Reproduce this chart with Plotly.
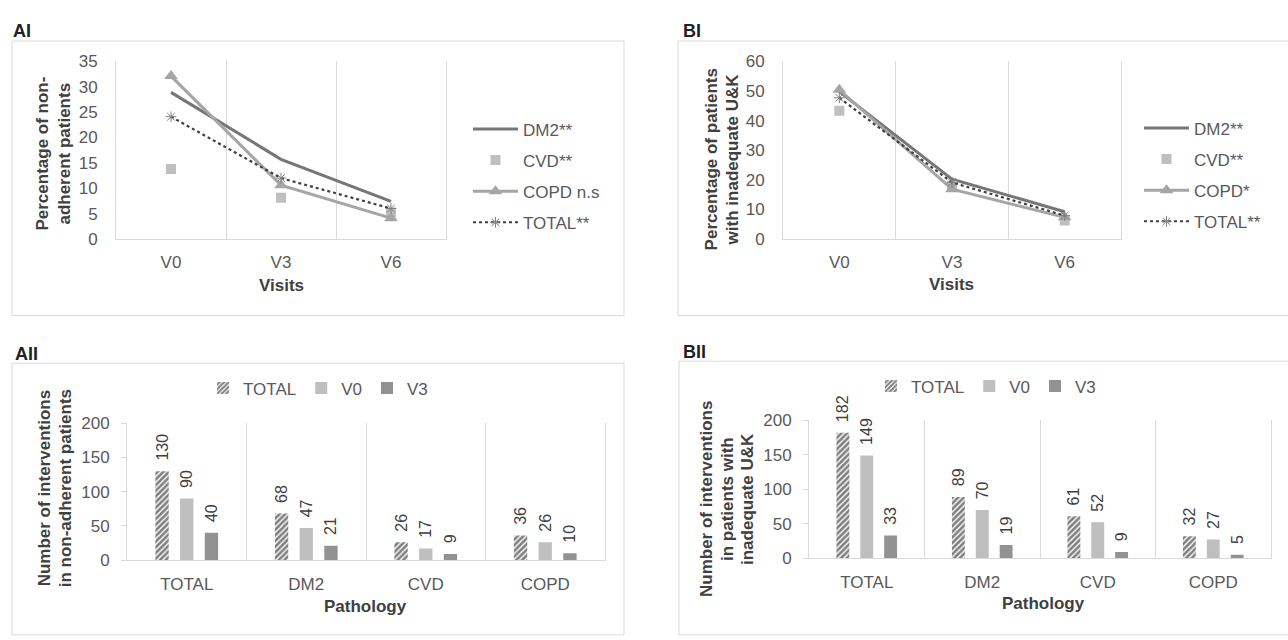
import plotly.graph_objects as go

W, H = 1288, 640

# ---------------- data ----------------
visits = ["V0", "V3", "V6"]
a1_dm2 = [28.9, 15.7, 7.4]
a1_cvd = [13.8, 8.1, 5.2]
a1_copd = [32.1, 10.6, 4.1]
a1_total = [24.1, 12.0, 6.0]

b1_dm2 = [49.8, 20.2, 9.2]
b1_cvd = [43.3, 18.0, 6.2]
b1_copd = [50.4, 16.8, 7.3]
b1_total = [47.7, 19.1, 7.9]

pathologies = ["TOTAL", "DM2", "CVD", "COPD"]
a2_total = [130, 68, 26, 36]
a2_v0 = [90, 47, 17, 26]
a2_v3 = [40, 21, 9, 10]

b2_total = [182, 89, 61, 32]
b2_v0 = [149, 70, 52, 27]
b2_v3 = [33, 19, 9, 5]

a1_names = ["DM2**", "CVD**", "COPD n.s", "TOTAL**"]
b1_names = ["DM2**", "CVD**", "COPD*", "TOTAL**"]
bar_names = ["TOTAL", "V0", "V3"]

# ---------------- style ----------------
FONT = "Liberation Sans, Arial, Helvetica, sans-serif"
TICK = "#595959"
TITLE = "#404040"
GRID = "#d9d9d9"
C_DM2 = "#767676"
C_CVD = "#bfbfbf"
C_COPD = "#a5a5a5"
C_TOT = "#404040"
C_V0 = "#bfbfbf"
C_V3 = "#929292"


def px(x):
    return x / W


def py(y):
    return 1 - y / H


fig = go.Figure()


def add_lines(xa, ya, dm2, cvd, copd, tot, names, legend):
    fig.add_trace(go.Scatter(x=visits, y=dm2, name=names[0], mode="lines",
                             line=dict(color=C_DM2, width=3), xaxis=xa, yaxis=ya,
                             legend=legend, legendgroup=legend + "a"))
    fig.add_trace(go.Scatter(x=visits, y=cvd, name=names[1], mode="markers",
                             marker=dict(color=C_CVD, symbol="square", size=10),
                             xaxis=xa, yaxis=ya, legend=legend, legendgroup=legend + "b"))
    fig.add_trace(go.Scatter(x=visits, y=copd, name=names[2], mode="lines+markers",
                             line=dict(color=C_COPD, width=3),
                             marker=dict(color=C_COPD, symbol="triangle-up", size=12),
                             xaxis=xa, yaxis=ya, legend=legend, legendgroup=legend + "c"))
    fig.add_trace(go.Scatter(x=visits, y=tot, name=names[3], mode="lines+markers",
                             line=dict(color=C_TOT, width=2.2, dash="dot"),
                             marker=dict(color="#808080", symbol="asterisk-open", size=9,
                                         line=dict(color="#808080", width=1)),
                             xaxis=xa, yaxis=ya, legend=legend, legendgroup=legend + "d"))


def add_bars(xa, ya, tot, v0, v3, legend):
    common = dict(xaxis=xa, yaxis=ya, legend=legend, textposition="outside",
                  texttemplate="\u00a0\u2009%{y}", textangle=-90, constraintext="none",
                  cliponaxis=False, textfont=dict(size=16, color=TITLE, family=FONT))
    fig.add_trace(go.Bar(x=pathologies, y=tot, name=bar_names[0],
                         marker=dict(color="white", line=dict(width=0),
                                     pattern=dict(shape="/", fgcolor="#000000", bgcolor="white",
                                                  size=4, solidity=0.65)), **common))
    fig.add_trace(go.Bar(x=pathologies, y=v0, name=bar_names[1],
                         marker=dict(color=C_V0, line=dict(width=0)), **common))
    fig.add_trace(go.Bar(x=pathologies, y=v3, name=bar_names[2],
                         marker=dict(color=C_V3, line=dict(width=0)), **common))


add_lines("x", "y", a1_dm2, a1_cvd, a1_copd, a1_total, a1_names, "legend")
add_lines("x2", "y2", b1_dm2, b1_cvd, b1_copd, b1_total, b1_names, "legend2")
add_bars("x3", "y3", a2_total, a2_v0, a2_v3, "legend3")
add_bars("x4", "y4", b2_total, b2_v0, b2_v3, "legend4")


def xaxis_cfg(domain, anchor, n):
    return dict(domain=domain, anchor=anchor, type="category", tickson="boundaries",
                range=[-0.5, n - 0.5],
                showgrid=True, gridcolor=GRID, gridwidth=1, showline=True, linecolor=GRID,
                linewidth=1, mirror=False, ticks="", ticklabelstandoff=8,
                tickfont=dict(size=17, color=TICK, family=FONT), fixedrange=True)


def yaxis_cfg(domain, anchor, rng, dtick, bars=False):
    d = dict(domain=domain, anchor=anchor, range=rng, dtick=dtick, showgrid=False,
             zeroline=False, tickfont=dict(size=17, color=TICK, family=FONT), fixedrange=True,
             showline=True, linecolor=GRID, linewidth=1, mirror=True)
    if bars:
        d.update(ticks="outside", ticklen=5, tickcolor=GRID, ticklabelstandoff=8)
    else:
        d.update(ticks="", ticklabelstandoff=14)
    return d


line_leg = dict(font=dict(size=17, color=TICK, family=FONT), bgcolor="rgba(0,0,0,0)",
                tracegroupgap=6, itemwidth=45, yanchor="middle", xanchor="left")
bar_leg = dict(font=dict(size=17, color=TICK, family=FONT), bgcolor="rgba(0,0,0,0)",
               orientation="h", yanchor="middle", xanchor="center", itemwidth=30)

shapes = []
for (x0, y0, x1, y1) in [(12, 33, 624, 316), (678, 33, 1300, 316),
                         (12, 365, 624, 645), (679, 363, 1300, 645)]:
    shapes.append(dict(type="rect", xref="paper", yref="paper", x0=px(x0), x1=px(x1),
                       y0=py(y1), y1=py(y0), line=dict(color=GRID, width=1),
                       fillcolor="rgba(0,0,0,0)", layer="below"))

annotations = []


def ann(text, x, y, size=17, bold=True, angle=0, xanchor="center", color=TITLE):
    annotations.append(dict(text=("<b>%s</b>" % text) if bold else text, x=px(x), y=py(y),
                            xref="paper", yref="paper", showarrow=False, textangle=angle,
                            xanchor=xanchor, yanchor="middle",
                            font=dict(size=size, color=color, family=FONT)))


# panel labels
ann("AI", 11, 23, size=18, xanchor="left", color="#222222")
ann("BI", 681, 23, size=18, xanchor="left", color="#222222")
ann("AII", 13, 356, size=18, xanchor="left", color="#222222")
ann("BII", 681, 353, size=18, xanchor="left", color="#222222")

# axis titles
ann("Visits", 281, 285)
ann("Visits", 952, 284)
ann("Pathology", 365, 616)
ann("Pathology", 1043, 613)
ann("Percentage of non-", 43, 149, angle=-90)
ann("adherent patients", 65, 149, angle=-90)
ann("Percentage of patients", 711, 155, angle=-90)
ann("with inadequate U&amp;K", 732, 155, angle=-90)
ann("Number of interventions", 44, 494, angle=-90)
ann("in non-adherent patients", 65, 494, angle=-90)
ann("Number of interventions", 706, 505, angle=-90)
ann("in patients with", 727, 505, angle=-90)
ann("inadequate U&amp;K", 747, 505, angle=-90)

fig.update_layout(
    width=W, height=H, margin=dict(l=0, r=0, t=0, b=0),
    paper_bgcolor="white", plot_bgcolor="white",
    font=dict(family=FONT, color=TICK),
    barmode="group", bargap=0.38, bargroupgap=0.46,
    xaxis=xaxis_cfg([px(116), px(446)], "y", 3),
    yaxis=yaxis_cfg([py(237), py(54)], "x", [0, 35], 5),
    xaxis2=xaxis_cfg([px(783), px(1121)], "y2", 3),
    yaxis2=yaxis_cfg([py(237), py(54)], "x2", [0, 60], 10),
    xaxis3=xaxis_cfg([px(127), px(605)], "y3", 4),
    yaxis3=yaxis_cfg([py(568), py(427)], "x3", [0, 200], 50, bars=True),
    xaxis4=xaxis_cfg([px(809), px(1271)], "y4", 4),
    yaxis4=yaxis_cfg([py(566), py(424)], "x4", [0, 200], 50, bars=True),
    legend=dict(line_leg, x=px(468), y=py(172)),
    legend2=dict(line_leg, x=px(1139), y=py(171)),
    legend3=dict(bar_leg, x=px(318), y=py(391)),
    legend4=dict(bar_leg, x=px(986), y=py(389)),
    shapes=shapes, annotations=annotations, showlegend=True,
)

fig.write_html("out.html", config={"displayModeBar": False},
               post_script="document.body.style.margin='0px';")
